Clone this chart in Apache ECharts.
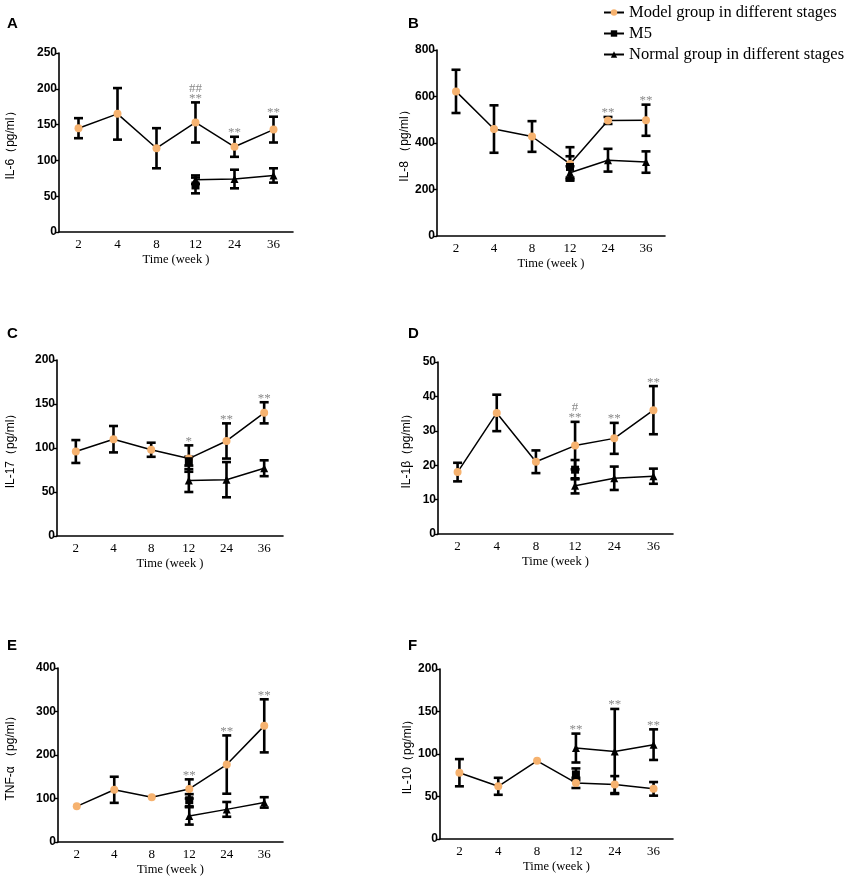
<!DOCTYPE html>
<html>
<head>
<meta charset="utf-8">
<script src="https://cdn.jsdelivr.net/npm/echarts@6/dist/echarts.min.js"></script>
<style>
html,body{margin:0;padding:0;background:#fff;}
#chart{width:851px;height:878px;}
</style>
</head>
<body>
<div id="chart"></div>
<script>
// ---------- data ----------
const categories = ['2', '4', '8', '12', '24', '36'];
const seriesNames = ['Model group in different stages', 'M5', 'Normal group in different stages'];

// Panel A: IL-6
const modelA = [145, 165, 117, 153, 119, 143];
const modelSdA = [14, 36, 28, 28, 14, 18];
const normalA = [null, null, null, 73, 74, 79];
const normalSdA = [null, null, null, 6, 13, 10];
const m5A = [null, null, null, 65, null, null];
const m5SdA = [null, null, null, 11, null, null];
const marksA = ['', '', '', '##\n**', '**', '**'];

// Panel B: IL-8
const modelB = [622, 460, 428, 310, 497, 498];
const modelSdB = [93, 102, 66, 72, 15, 67];
const normalB = [null, null, null, 272, 326, 318];
const normalSdB = [null, null, null, 28, 49, 46];
const m5B = [null, null, null, 297, null, null];
const m5SdB = [null, null, null, 46, null, null];
const marksB = ['', '', '', '', '**', '**'];

// Panel C: IL-17
const modelC = [96, 110, 98, 88, 108, 140];
const modelSdC = [13, 15, 8, 15, 20, 12];
const normalC = [null, null, null, 63, 64, 77];
const normalSdC = [null, null, null, 13, 20, 9];
const m5C = [null, null, null, 85, null, null];
const m5SdC = [null, null, null, 5, null, null];
const marksC = ['', '', '', '*', '**', '**'];

// Panel D: IL-1β
const modelD = [18, 35.2, 21, 25.7, 27.8, 36];
const modelSdD = [2.7, 5.3, 3.3, 6.9, 4.5, 7];
const normalD = [null, null, null, 14, 16.2, 16.8];
const normalSdD = [null, null, null, 2.2, 3.4, 2.2];
const m5D = [null, null, null, 18.7, null, null];
const m5SdD = [null, null, null, 2.8, null, null];
const marksD = ['', '', '', '#\n**', '**', '**'];

// Panel E: TNF-α
const modelE = [82, 120, 103, 122, 178, 267];
const modelSdE = [0, 30, 0, 22, 67, 61];
const normalE = [null, null, null, 60, 75, 91];
const normalSdE = [null, null, null, 20, 17, 12];
const m5E = [null, null, null, 96, null, null];
const m5SdE = [null, null, null, 14, null, null];
const marksE = ['', '', '', '**', '**', '**'];

// Panel F: IL-10
const modelF = [78, 62, 92, 66, 64, 59];
const modelSdF = [16, 10, 0, 6, 10, 8];
const normalF = [null, null, null, 107, 103, 111];
const normalSdF = [null, null, null, 17, 50, 18];
const m5F = [null, null, null, 76, null, null];
const m5SdF = [null, null, null, 7, null, null];
const marksF = ['', '', '', '**', '**', '**'];

// y-axis settings
const yNames = ['IL-6（pg/ml）', 'IL-8 （pg/ml）', 'IL-17（pg/ml）', 'IL-1β（pg/ml）', 'TNF-α （pg/ml）', 'IL-10（pg/ml）'];
const yMax = [250, 800, 200, 50, 400, 200];
const yStep = [50, 200, 50, 10, 100, 50];
const letters = ['A', 'B', 'C', 'D', 'E', 'F'];

// ---------- layout ----------
const layout = [
  {left: 59, top: 53, width: 234, height: 179, nameGap: 42, letter: [7, 24]},
  {left: 437, top: 50, width: 228, height: 186, nameGap: 25, letter: [408, 24]},
  {left: 57, top: 360, width: 226, height: 176, nameGap: 40, letter: [7, 334]},
  {left: 438, top: 362, width: 235, height: 172, nameGap: 25, letter: [408, 334]},
  {left: 58, top: 668, width: 225, height: 174, nameGap: 41, letter: [7, 646]},
  {left: 440, top: 669, width: 233, height: 170, nameGap: 26, letter: [408, 646]}
];

const panels = [
  {model: modelA, modelSd: modelSdA, normal: normalA, normalSd: normalSdA, m5: m5A, m5Sd: m5SdA, marks: marksA},
  {model: modelB, modelSd: modelSdB, normal: normalB, normalSd: normalSdB, m5: m5B, m5Sd: m5SdB, marks: marksB},
  {model: modelC, modelSd: modelSdC, normal: normalC, normalSd: normalSdC, m5: m5C, m5Sd: m5SdC, marks: marksC},
  {model: modelD, modelSd: modelSdD, normal: normalD, normalSd: normalSdD, m5: m5D, m5Sd: m5SdD, marks: marksD},
  {model: modelE, modelSd: modelSdE, normal: normalE, normalSd: normalSdE, m5: m5E, m5Sd: m5SdE, marks: marksE},
  {model: modelF, modelSd: modelSdF, normal: normalF, normalSd: normalSdF, m5: m5F, m5Sd: m5SdF, marks: marksF}
];

const ORANGE = '#F6B26F';
const SERIF = '"Liberation Serif", "DejaVu Serif", serif';
const SANS = '"Liberation Sans", Arial, sans-serif';

function errData(vals, sds) {
  const out = [];
  vals.forEach((v, i) => {
    if (v != null && sds[i]) out.push([i, v - sds[i], v + sds[i]]);
  });
  return out;
}

function errorBarSeries(idx, data) {
  return {
    type: 'custom', xAxisIndex: idx, yAxisIndex: idx, z: 1, silent: true,
    data: data,
    renderItem: function (params, api) {
      const x = api.value(0);
      const lo = api.coord([x, api.value(1)]);
      const hi = api.coord([x, api.value(2)]);
      const w = 4.5;
      const st = {stroke: '#000', lineWidth: 2.6};
      return {
        type: 'group',
        children: [
          {type: 'line', shape: {x1: lo[0], y1: lo[1], x2: hi[0], y2: hi[1]}, style: st},
          {type: 'line', shape: {x1: lo[0] - w, y1: lo[1], x2: lo[0] + w, y2: lo[1]}, style: st},
          {type: 'line', shape: {x1: hi[0] - w, y1: hi[1], x2: hi[0] + w, y2: hi[1]}, style: st}
        ]
      };
    }
  };
}

const grids = [], xAxes = [], yAxes = [], series = [], graphics = [];

panels.forEach((p, k) => {
  const L = layout[k];
  grids.push({left: L.left, top: L.top, width: L.width, height: L.height});
  xAxes.push({
    type: 'category', gridIndex: k, data: categories, boundaryGap: true,
    axisLine: {lineStyle: {color: '#000', width: 1.6}},
    axisTick: {alignWithLabel: true, length: 4, lineStyle: {color: '#000', width: 1.4}},
    axisLabel: {color: '#000', fontFamily: SERIF, fontSize: 13, margin: 6},
    name: 'Time (week )', nameLocation: 'middle', nameGap: 21,
    nameTextStyle: {color: '#000', fontFamily: SERIF, fontSize: 12.5},
    splitLine: {show: false}
  });
  yAxes.push({
    type: 'value', gridIndex: k, min: 0, max: yMax[k], interval: yStep[k],
    axisLine: {show: true, lineStyle: {color: '#000', width: 1.6}},
    axisTick: {show: true, length: 4, lineStyle: {color: '#000', width: 1.4}},
    axisLabel: {color: '#000', fontFamily: SANS, fontWeight: 'bold', fontSize: 12, margin: 2},
    splitLine: {show: false},
    name: yNames[k], nameLocation: 'middle', nameGap: L.nameGap,
    nameTextStyle: {color: '#000', fontFamily: SANS, fontSize: 12}
  });

  // error bars
  series.push(errorBarSeries(k, errData(p.model, p.modelSd)));
  series.push(errorBarSeries(k, errData(p.normal, p.normalSd)));
  series.push(errorBarSeries(k, errData(p.m5, p.m5Sd)));

  // lines
  series.push({
    name: seriesNames[0], type: 'line', xAxisIndex: k, yAxisIndex: k, z: 3,
    data: p.model, symbol: 'circle', symbolSize: 8, showAllSymbol: true,
    lineStyle: {color: '#000', width: 1.5}, itemStyle: {color: ORANGE, borderWidth: 0},
    emphasis: {disabled: true}, animation: false
  });
  series.push({
    name: seriesNames[2], type: 'line', xAxisIndex: k, yAxisIndex: k, z: 3,
    data: p.normal, symbol: 'triangle', symbolSize: 8, showAllSymbol: true,
    lineStyle: {color: '#000', width: 1.5}, itemStyle: {color: '#000'},
    emphasis: {disabled: true}, animation: false
  });
  series.push({
    name: seriesNames[1], type: 'line', xAxisIndex: k, yAxisIndex: k, z: 4,
    data: p.m5, symbol: 'rect', symbolSize: 8, showAllSymbol: true,
    lineStyle: {color: '#000', width: 1.5}, itemStyle: {color: '#000'},
    emphasis: {disabled: true}, animation: false
  });

  // significance marks above highest bar end
  const markData = [], markTexts = [];
  p.marks.forEach((t, i) => {
    if (!t) return;
    const tops = [];
    [[p.model, p.modelSd], [p.normal, p.normalSd], [p.m5, p.m5Sd]].forEach(([v, s]) => {
      if (v[i] != null) tops.push(v[i] + (s[i] || 0));
    });
    markData.push([i, Math.max.apply(null, tops)]);
    markTexts.push(t);
  });
  series.push({
    type: 'custom', xAxisIndex: k, yAxisIndex: k, z: 5, silent: true,
    data: markData,
    renderItem: function (params, api) {
      const pt = api.coord([api.value(0), api.value(1)]);
      return {
        type: 'text', x: pt[0], y: pt[1] + 1,
        style: {
          text: markTexts[params.dataIndex], fill: '#8a8a8a',
          font: '13px ' + SERIF, lineHeight: 10,
          align: 'center', verticalAlign: 'bottom',
          textAlign: 'center', textVerticalAlign: 'bottom'
        }
      };
    }
  });

  graphics.push({
    type: 'text', left: L.letter[0], top: L.letter[1] - 8,
    style: {text: letters[k], font: 'bold 15px ' + SANS, fill: '#000'}
  });
});

const chart = echarts.init(document.getElementById('chart'), null, {renderer: 'canvas'});
chart.setOption({
  animation: false,
  backgroundColor: '#fff',
  grid: grids,
  xAxis: xAxes,
  yAxis: yAxes,
  series: series,
  graphic: graphics,
  legend: {
    data: seriesNames,
    orient: 'vertical', left: 598, top: -1,
    itemWidth: 20, itemHeight: 8, itemGap: 4,
    textStyle: {color: '#000', fontFamily: SERIF, fontSize: 16.5},
    selectedMode: false
  }
});
</script>
</body>
</html>
